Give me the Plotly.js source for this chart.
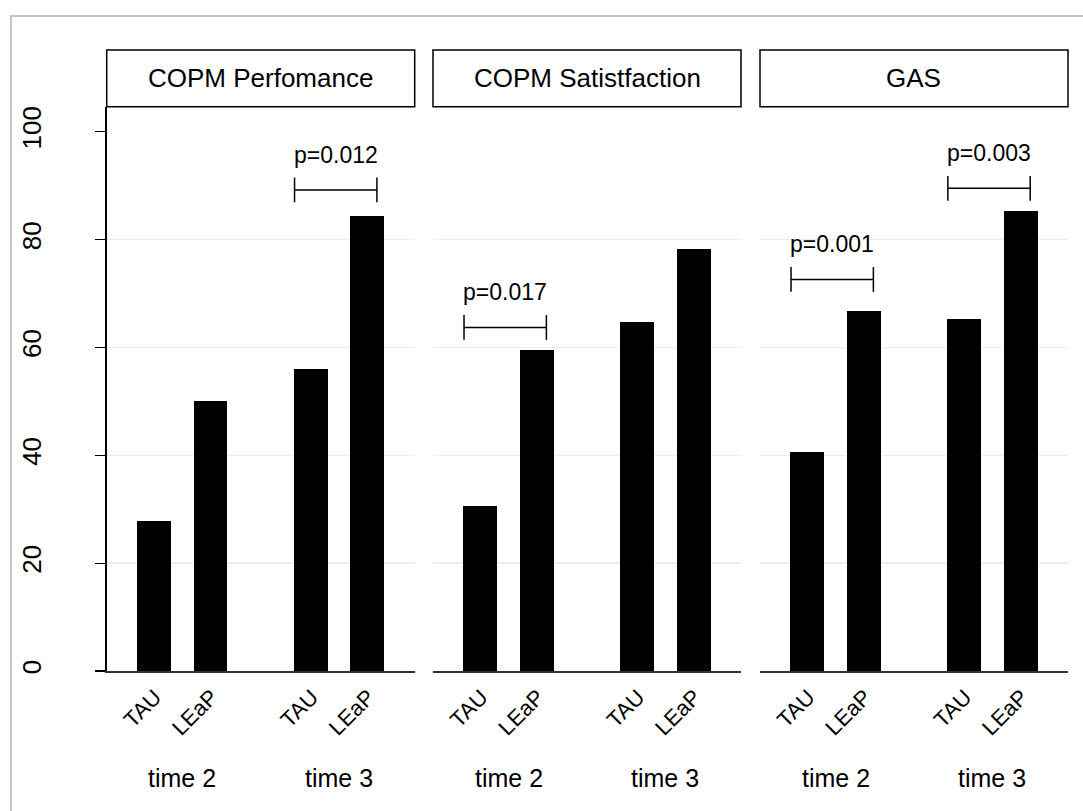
<!DOCTYPE html>
<html>
<head>
<meta charset="utf-8">
<script src="https://cdn.plot.ly/plotly-3.0.1.min.js"></script>
<style>html,body{margin:0;padding:0;background:#fff;}#chart{width:1083px;height:811px;}</style>
</head>
<body>
<div id="chart"></div>
<script>
// ---- data ----
const panels = ['COPM Perfomance', 'COPM Satistfaction', 'GAS'];
const times = ['time 2', 'time 3'];
const groups = ['TAU', 'LEaP'];
const tauValues = [[27.8, 56.0], [30.6, 64.7], [40.6, 65.3]];
const leapValues = [[50.1, 84.4], [59.5, 78.2], [66.8, 85.3]];
const yTicks = [0, 20, 40, 60, 80, 100];
const pLabels = ['p=0.012', 'p=0.017', 'p=0.001', 'p=0.003'];
const pPanel = [0, 1, 2, 2];
const pTime = [1, 0, 0, 1];
const pHeight = [89.2, 63.7, 72.6, 89.5];

// ---- layout helpers ----
const W = 1083, H = 811;
const FONT = 'Liberation Sans, Arial, sans-serif';
const panelLeft = [106.7, 433, 760];
const panelWidth = 308;
const plotTop = 106.7, plotBottom = 671;
const headerTop = 50;
const groupStep = 2.78;
const yMax = (plotBottom - plotTop) / 5.393;
const pos = (t, g) => t * groupStep + g;

const data = [];
const shapes = [];
const annotations = [];
const layout = {
  width: W, height: H,
  margin: {l: 0, r: 0, t: 0, b: 0},
  paper_bgcolor: '#fff', plot_bgcolor: '#fff',
  showlegend: false,
  font: {family: FONT, color: '#000'},
  bargap: 0
};

panels.forEach((name, p) => {
  const sfx = p === 0 ? '' : String(p + 1);
  const xa = 'x' + sfx, ya = 'y' + sfx;
  const xs = [], ys = [], tv = [], tt = [];
  times.forEach((tm, t) => {
    groups.forEach((g, gi) => {
      xs.push(pos(t, gi));
      ys.push(gi === 0 ? tauValues[p][t] : leapValues[p][t]);
      tv.push(pos(t, gi));
      tt.push(g);
    });
  });
  data.push({
    type: 'bar', x: xs, y: ys, xaxis: xa, yaxis: ya,
    width: 0.6, marker: {color: '#000', line: {width: 0}},
    hoverinfo: 'skip'
  });
  const d0 = panelLeft[p] / W, d1 = (panelLeft[p] + panelWidth) / W;
  layout['xaxis' + sfx] = {
    domain: [d0, d1], anchor: ya,
    range: [-0.84, pos(1, 1) + 0.84],
    tickvals: tv, ticktext: tt, tickangle: -45,
    tickfont: {size: 22, family: FONT, color: '#000'},
    ticks: '', ticklabelstandoff: 3, ticklabelshift: 1,
    showgrid: false, zeroline: false,
    showline: true, linecolor: '#333', linewidth: 1.5,
    fixedrange: true
  };
  layout['yaxis' + sfx] = {
    domain: [1 - plotBottom / H, 1 - plotTop / H], anchor: xa,
    range: [0, yMax],
    tickvals: yTicks, ticktext: yTicks.map(String),
    tickangle: -90,
    tickfont: {size: 26, family: FONT, color: '#000'},
    showticklabels: p === 0,
    ticks: p === 0 ? 'outside' : '', ticklen: 10, tickwidth: 1.2, tickcolor: '#000',
    ticklabelstandoff: 44,
    showgrid: false, zeroline: false,
    showline: p === 0, linecolor: '#000', linewidth: 1.5,
    minor: {tickvals: [20, 40, 60, 80], showgrid: true, gridcolor: '#e7f0f1', gridwidth: 1.5, ticks: ''},
    fixedrange: true
  };
  // header box
  shapes.push({
    type: 'rect', xref: 'paper', yref: 'paper',
    x0: d0, x1: d1, y0: 1 - plotTop / H, y1: 1 - headerTop / H,
    line: {color: '#000', width: 1.5}, fillcolor: '#fff'
  });
  annotations.push({
    xref: 'paper', yref: 'paper', x: (d0 + d1) / 2, y: 1 - (headerTop + plotTop) / 2 / H,
    text: name, showarrow: false, xanchor: 'center', yanchor: 'middle',
    font: {size: 26, family: FONT, color: '#000'}
  });
  // time labels
  times.forEach((tm, t) => {
    annotations.push({
      xref: xa, yref: 'paper', x: (pos(t, 0) + pos(t, 1)) / 2, y: 1 - 778 / H,
      text: tm, showarrow: false, xanchor: 'center', yanchor: 'middle',
      font: {size: 25, family: FONT, color: '#000'}
    });
  });
});

// p-value brackets
pLabels.forEach((lab, i) => {
  const p = pPanel[i], t = pTime[i], h = pHeight[i];
  const sfx = p === 0 ? '' : String(p + 1);
  const xa = 'x' + sfx, ya = 'y' + sfx;
  const xl = pos(t, 0) - 0.29, xr = pos(t, 1) + 0.17;
  const ln = {color: '#000', width: 1.5};
  shapes.push({type: 'line', xref: xa, yref: ya, x0: xl, x1: xr, y0: h, y1: h, line: ln});
  shapes.push({type: 'line', xref: xa, yref: ya, x0: xl, x1: xl, y0: h - 2.3, y1: h + 2.3, line: ln});
  shapes.push({type: 'line', xref: xa, yref: ya, x0: xr, x1: xr, y0: h - 2.3, y1: h + 2.3, line: ln});
  annotations.push({
    xref: xa, yref: ya, x: (xl + xr) / 2, y: h + 6.5,
    text: lab, showarrow: false, xanchor: 'center', yanchor: 'middle',
    font: {size: 23, family: FONT, color: '#000'}
  });
});

// outer frame (cropped on right and bottom)
shapes.push({
  type: 'rect', xref: 'paper', yref: 'paper', layer: 'below',
  x0: 11 / W, x1: 1.05, y0: -0.05, y1: 1 - 16 / H,
  line: {color: '#c4c4c4', width: 2}
});

layout.shapes = shapes;
layout.annotations = annotations;

Plotly.newPlot('chart', data, layout, {displayModeBar: false, staticPlot: true});
</script>
</body>
</html>
